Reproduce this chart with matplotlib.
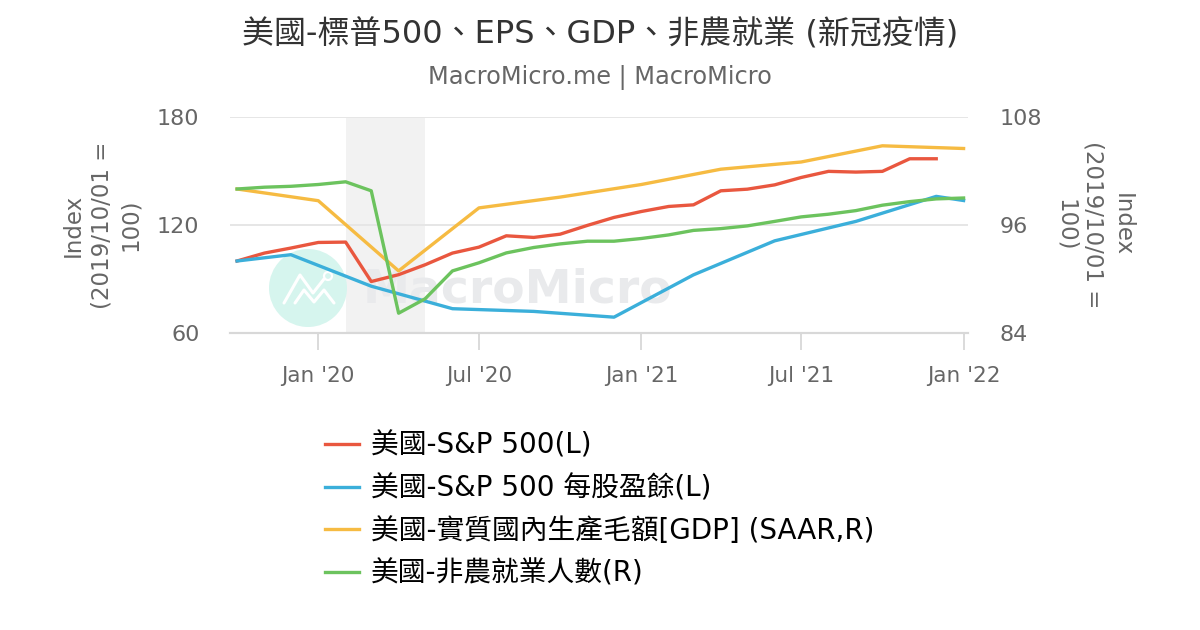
import matplotlib
matplotlib.use("Agg")
import matplotlib.pyplot as plt
from matplotlib.patches import Ellipse
import pandas as pd

plt.rcParams['font.family'] = ['DejaVu Sans', 'Noto Sans CJK TC']

# monthly S&P 500 index (2019/10/01 = 100), left axis
spx_dates = pd.date_range("2019-10-01", "2021-12-01", freq="MS")
spx = [100, 104.4, 107.2, 110.3, 110.5, 88.6, 92.4, 97.9, 104.4, 107.7,
       114.0, 113.1, 114.9, 119.8, 124.2, 127.5, 130.3, 131.2, 139.0, 139.9,
       142.3, 146.4, 149.8, 149.4, 149.8, 156.8, 156.8]

# S&P 500 EPS, left axis
eps_dates = pd.to_datetime(["2019-10-01", "2019-12-01", "2020-03-01", "2020-06-01",
                            "2020-09-01", "2020-12-01", "2021-03-01", "2021-06-01",
                            "2021-09-01", "2021-12-01", "2022-01-01"])
eps = [100, 103.5, 86.0, 73.5, 72.0, 68.8, 92.3, 111.2, 122.0, 135.9, 133.6]

# real GDP (SAAR), quarterly, right axis
gdp_dates = pd.date_range("2019-10-01", "2022-01-01", freq="QS-JAN")
gdp = [100, 98.7, 90.9, 97.9, 99.1, 100.5, 102.2, 103.0, 104.8, 104.5]

# nonfarm payrolls, monthly, right axis
nfp_dates = pd.date_range("2019-10-01", "2022-01-01", freq="MS")
nfp = [100, 100.2, 100.3, 100.5, 100.8, 99.8, 86.2, 87.8, 90.9, 91.8,
       92.9, 93.5, 93.9, 94.2, 94.2, 94.5, 94.9, 95.4, 95.6, 95.9,
       96.4, 96.9, 97.2, 97.6, 98.2, 98.6, 98.9, 99.0]

xtick_dates = pd.to_datetime(["2020-01-01", "2020-07-01", "2021-01-01", "2021-07-01", "2022-01-01"])
xtick_labels = ["Jan '20", "Jul '20", "Jan '21", "Jul '21", "Jan '22"]

labels = ["美國-S&P 500(L)", "美國-S&P 500 每股盈餘(L)",
          "美國-實質國內生產毛額[GDP] (SAAR,R)", "美國-非農就業人數(R)"]
colors = ["#E9573F", "#3BAFDA", "#F6BB42", "#6CC35E"]

grey = "#666666"

fig = plt.figure(figsize=(12, 6.3), dpi=100)
ax = fig.add_axes([230 / 1200, 1 - 333 / 630, 738 / 1200, 216 / 630])
ax2 = ax.twinx()

# recession shading
ax.axvspan(pd.Timestamp("2020-02-01"), pd.Timestamp("2020-05-01"), color="#f2f2f2", zorder=0, lw=0)

# watermark: logo circle + text
def fx(px):
    return px / 1200

def fy(py):
    return 1 - py / 630

ax.add_patch(Ellipse((fx(308), fy(288)), 78 / 1200, 78 / 630,
                     transform=fig.transFigure, color="#d6f5ee", zorder=0.5, lw=0))
ax.plot([fx(284), fx(300), fx(313), fx(324)], [fy(303), fy(275), fy(293), fy(279)],
        color="white", lw=2.2, transform=fig.transFigure, zorder=0.6, solid_capstyle="round")
ax.plot([fx(295), fx(304), fx(314), fx(324), fx(334)], [fy(303), fy(290), fy(302), fy(290), fy(303)],
        color="white", lw=2.2, transform=fig.transFigure, zorder=0.6, solid_capstyle="round")
ax.add_patch(Ellipse((fx(328), fy(276)), 8 / 1200, 8 / 630, transform=fig.transFigure,
                     facecolor="none", edgecolor="white", lw=1.6, zorder=0.6))
ax.text(0.18, 0.2, "MacroMicro", transform=ax.transAxes, fontsize=34, fontweight="bold",
        color="#e9eaec", va="center", ha="left", zorder=0.5)

lw = 2.4
l1, = ax.plot(spx_dates, spx, color=colors[0], lw=lw, zorder=3)
l2, = ax.plot(eps_dates, eps, color=colors[1], lw=lw, zorder=3)
l3, = ax2.plot(gdp_dates, gdp, color=colors[2], lw=lw, zorder=3)
l4, = ax2.plot(nfp_dates, nfp, color=colors[3], lw=lw, zorder=3)

ax.set_ylim(60, 180)
ax.set_yticks([60, 120, 180])
ax2.set_ylim(84, 108)
ax2.set_yticks([84, 96, 108])
ax.set_xlim(pd.Timestamp("2019-09-23"), pd.Timestamp("2022-01-06"))
ax.set_xticks(xtick_dates)
ax.set_xticklabels(xtick_labels)

ax.grid(axis="y", color="#e6e6e6", lw=1.4, zorder=1)
ax.set_axisbelow(True)
for a in (ax, ax2):
    for s in ("top", "left", "right"):
        a.spines[s].set_visible(False)
    a.spines["bottom"].set_color("#d8d8d8")
    a.spines["bottom"].set_linewidth(1.5)
ax.tick_params(axis="y", length=0, pad=22, labelsize=16, labelcolor=grey)
ax2.tick_params(axis="y", length=0, pad=23, labelsize=16, labelcolor=grey)
ax.tick_params(axis="x", length=12, width=1.3, color="#d8d8d8", pad=12, labelsize=15.5, labelcolor=grey)

ax.set_ylabel("Index\n(2019/10/01 =\n100)", fontsize=16.5, color=grey, labelpad=11, linespacing=1.3)
ax2.set_ylabel("Index\n(2019/10/01 =\n100)", fontsize=16.5, color=grey, labelpad=8,
               linespacing=1.3, rotation=270, va="bottom")

fig.text(0.5, 1 - 35 / 630, "美國-標普500、EPS、GDP、非農就業 (新冠疫情)", ha="center", va="center",
         fontsize=23, color="#333333")
fig.text(0.5, 1 - 77 / 630, "MacroMicro.me | MacroMicro", ha="center", va="center",
         fontsize=17.3, color=grey)

fig.legend([l1, l2, l3, l4], labels, loc="upper center", bbox_to_anchor=(0.5, 1 - 418 / 630),
           frameon=False, fontsize=20, handlelength=1.2, handletextpad=0.45, labelspacing=0.52,
           borderpad=0)

fig.savefig("out.png", dpi=100)
